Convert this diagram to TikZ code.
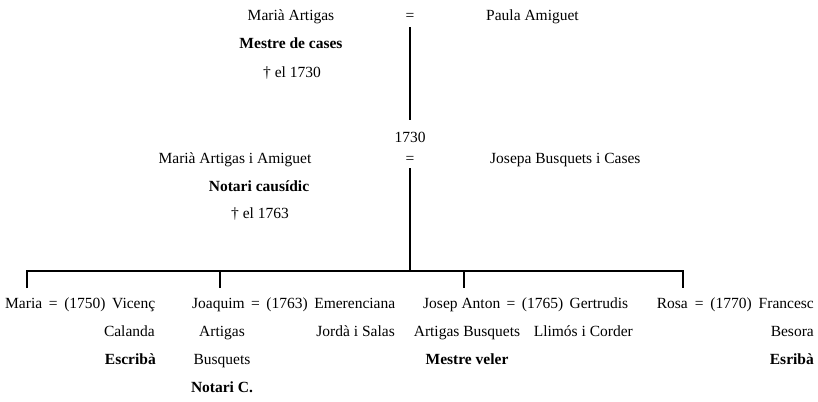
\documentclass[tikz,border=0pt]{standalone}
\usepackage{fontspec}
\setmainfont{Liberation Serif}
\begin{document}
\begin{tikzpicture}[x=1bp,y=-1bp,
  txt/.style={font=\fontsize{15.5bp}{18bp}\selectfont, inner sep=0pt, anchor=base},
  lbl/.style={font=\fontsize{15.5bp}{18bp}\selectfont\bfseries, inner sep=0pt, anchor=base},
  ln/.style={line width=1.2bp, black}]
\useasboundingbox (0,0) rectangle (818,401);
\fill[white] (0,0) rectangle (818,401);
% first generation
\node[txt] (f1) at (291,20) {Marià Artigas};
\node[lbl] (f1o) at (291,48) {Mestre de cases};
\node[txt] (f1d) at (292,77) {† el 1730};
\node[txt] (eq1) at (410,20) {=};
\node[txt, anchor=base west] (m1) at (486,20) {Paula Amiguet};
% second generation
\node[txt] (yr) at (410,142) {1730};
\node[txt] (eq2) at (410,163) {=};
\node[txt] (f2) at (235,163) {Marià Artigas i Amiguet};
\node[lbl] (f2o) at (259,191) {Notari causídic};
\node[txt] (f2d) at (260,218) {† el 1763};
\node[txt, anchor=base west] (m2) at (490,163) {Josepa Busquets i Cases};
% children
\node[txt, anchor=base west] (c1) at (5,308) {\makebox[150bp][s]{Maria = (1750) Vicenç}};
\node[txt, anchor=base east] (c1a) at (155,336) {Calanda};
\node[lbl, anchor=base east] (c1b) at (156,364) {Escribà};
\node[txt, anchor=base west] (c2) at (192,308) {\makebox[203bp][s]{Joaquim = (1763) Emerenciana}};
\node[txt] (c2a) at (222,336) {Artigas};
\node[txt] (c2b) at (222,364) {Busquets};
\node[lbl] (c2c) at (222,392) {Notari C.};
\node[txt, anchor=base east] (c2s) at (395,336) {Jordà i Salas};
\node[txt, anchor=base west] (c3) at (423,308) {\makebox[205bp][s]{\mbox{Josep Anton} = (1765) Gertrudis}};
\node[txt] (c3a) at (467,336) {Artigas Busquets};
\node[lbl] (c3b) at (467,364) {Mestre veler};
\node[txt, anchor=base east] (c3s) at (633,336) {Llimós i Corder};
\node[txt, anchor=base east] (c4) at (814,308) {\makebox[157bp][s]{Rosa = (1770) Francesc}};
\node[txt, anchor=base east] (c4a) at (814,336) {Besora};
\node[lbl, anchor=base east] (c4b) at (814,364) {Esribà};
% connectors
\coordinate (bar) at (410,271);
\coordinate (bL) at (27,271);
\coordinate (bR) at (683,271);
\coordinate (t2) at (220,271);
\coordinate (t3) at (464,271);
\draw[ln, shorten <=7bp, shorten >=11bp] (eq1.south) -- (yr.north);
\draw[ln, shorten <=5bp] (eq2.south) -- (bar);
\draw[ln, shorten <=9bp, shorten >=9bp] (bL |- c1.north) -- (bL) -- (bR) -- (bR |- c4.north);
\draw[ln, shorten >=9bp] (t2) -- (t2 |- c2.north);
\draw[ln, shorten >=9bp] (t3) -- (t3 |- c3.north);
\end{tikzpicture}
\end{document}
